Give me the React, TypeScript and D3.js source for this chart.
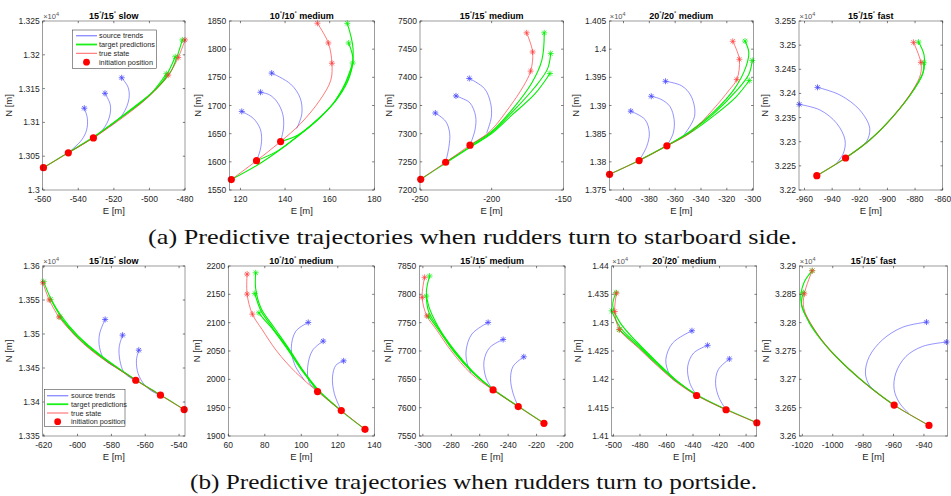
import React from 'react';
import * as d3 from 'd3';

type Pt = [number, number];

// ---------- (a) starboard: 15°/15° slow ----------
const a1Dots: Pt[] = [[-559.6, 13033], [-545.6, 13055], [-531.5, 13077]];
const a1True: Pt[] = [[-559.6, 13033], [-545.6, 13055], [-531.5, 13077], [-522, 13094], [-511, 13115], [-500, 13139], [-489.4, 13170], [-483.8, 13196], [-480, 13222]];
const a1RedStars: Pt[] = [[-489.4, 13170], [-483.8, 13196], [-480, 13222]];
const a1Source: Pt[][] = [
  [[-545.6, 13055], [-538.1, 13074], [-535.3, 13089], [-534.9, 13106], [-536.6, 13121]],
  [[-531.5, 13077], [-526, 13090], [-522.5, 13108], [-522, 13126], [-525, 13143]],
  [[-522, 13094], [-515, 13112], [-511.5, 13135], [-512, 13152], [-515.6, 13166]],
];
const a1Target: Pt[][] = [
  [[-559.6, 13033], [-545.6, 13055.5], [-531.5, 13078], [-511, 13117], [-499, 13143], [-490.5, 13172]],
  [[-545.6, 13055], [-531.5, 13078], [-522, 13096], [-503, 13133], [-492, 13163], [-485.5, 13197]],
  [[-531.5, 13077], [-511, 13118], [-496, 13150], [-488, 13175], [-484.5, 13197], [-481.5, 13222]],
];
const a1XTicks = [-560, -540, -520, -500, -480];
const a1YTicks = [13000, 13050, 13100, 13150, 13200, 13250];

// ---------- (a) starboard: 10°/10° medium ----------
const a2Dots: Pt[] = [[115.9, 1568.5], [127.2, 1602], [138, 1636]];
const a2True: Pt[] = [[115.9, 1568.5], [127.2, 1602], [138, 1636], [147, 1668], [155.7, 1710], [160.5, 1745], [161, 1775], [159.4, 1811], [154.5, 1846]];
const a2RedStars: Pt[] = [[161, 1775], [159.4, 1811], [154.5, 1846]];
const a2Source: Pt[][] = [
  [[127.2, 1602], [128.8, 1620], [129.5, 1641], [128.8, 1659], [125.8, 1677], [120.6, 1689.5]],
  [[138, 1636], [139.3, 1660], [139, 1684], [136.5, 1706], [133, 1719], [129, 1723.5]],
  [[145.2, 1659], [147.5, 1685], [146.8, 1713], [142.5, 1738], [134, 1757.5]],
];
const a2Target: Pt[][] = [
  [[115.9, 1568.5], [127.3, 1593.5], [136.2, 1617], [145.2, 1644], [154.2, 1674], [161.6, 1704], [167, 1740], [170.3, 1775.4]],
  [[127.2, 1602], [136.5, 1619], [145.5, 1645], [155, 1676], [162.5, 1708], [168, 1745], [170.5, 1780], [168.5, 1811]],
  [[138, 1636], [146, 1648], [156, 1680], [164, 1715], [169, 1752], [170.5, 1800], [167.9, 1845.8]],
];
const a2XTicks = [120, 140, 160, 180];
const a2YTicks = [1550, 1600, 1650, 1700, 1750, 1800, 1850];

// ---------- (a) starboard: 15°/15° medium ----------
const a3Dots: Pt[] = [[-249.5, 7219], [-232.1, 7249.3], [-215.1, 7279.6]];
const a3True: Pt[] = [[-249.5, 7219], [-232.1, 7249.3], [-215.1, 7279.6], [-201.2, 7304], [-187.2, 7348.5], [-177.9, 7384], [-172.8, 7411], [-171.4, 7445], [-175.6, 7479]];
const a3RedStars: Pt[] = [[-172.8, 7411], [-171.4, 7445], [-175.6, 7479]];
const a3Source: Pt[][] = [
  [[-232.1, 7249.3], [-229.8, 7277], [-229.3, 7301], [-232.1, 7322], [-239.3, 7336.7]],
  [[-215.1, 7279.6], [-211.6, 7307], [-211.2, 7331], [-215.1, 7354.5], [-220.9, 7363], [-224.9, 7367]],
  [[-203.5, 7301], [-200.2, 7330], [-200.8, 7355], [-205, 7380], [-215.6, 7398]],
];
const a3Target: Pt[][] = [
  [[-249.5, 7219], [-232, 7248], [-215, 7276], [-200, 7300], [-185, 7335], [-170, 7370], [-159.3, 7406.8]],
  [[-232.1, 7249.3], [-215, 7277], [-200, 7302], [-185, 7340], [-170, 7382], [-161, 7415], [-158.8, 7442.4]],
  [[-215.1, 7279.6], [-200, 7304], [-185, 7345], [-172, 7390], [-165, 7430], [-163.3, 7479]],
];
const a3XTicks = [-250, -200, -150];
const a3YTicks = [7200, 7250, 7300, 7350, 7400, 7450, 7500];

// ---------- (a) starboard: 20°/20° medium ----------
const a4Dots: Pt[] = [[-410.8, 13777.9], [-387.9, 13802.3], [-366.4, 13828.4]];
const a4True: Pt[] = [[-410.8, 13777.9], [-387.9, 13802.3], [-366.4, 13828.4], [-348.7, 13851], [-330.8, 13892.6], [-318, 13928], [-312.3, 13946], [-310.3, 13982], [-315.4, 14014]];
const a4RedStars: Pt[] = [[-312.3, 13946], [-310.3, 13982], [-315.4, 14014]];
const a4Source: Pt[][] = [
  [[-387.9, 13802.3], [-382.1, 13827], [-380, 13851], [-383.3, 13875], [-394.4, 13890]],
  [[-366.4, 13828.4], [-361.5, 13851], [-360.8, 13875], [-364.1, 13898.5], [-371, 13911], [-378.5, 13916.4]],
  [[-355.1, 13842], [-345, 13880.7], [-347.6, 13916.4], [-355, 13935], [-367.5, 13943]],
];
const a4Target: Pt[][] = [
  [[-410.8, 13777.9], [-388, 13802.5], [-366, 13829], [-348, 13852], [-330, 13882], [-313, 13915], [-302.6, 13944.3]],
  [[-387.9, 13802.3], [-366, 13829.5], [-348, 13854], [-330, 13886], [-313, 13925], [-303, 13955], [-300.3, 13980]],
  [[-366.4, 13828.4], [-348, 13855], [-330, 13889], [-314, 13930], [-305, 13970], [-303, 13995], [-305.9, 14014.4]],
];
const a4XTicks = [-400, -380, -360, -340, -320, -300];
const a4YTicks = [13750, 13800, 13850, 13900, 13950, 14000, 14050];

// ---------- (a) starboard: 15°/15° fast ----------
const a5Dots: Pt[] = [[-951.1, 32229.7], [-930.3, 32266.3]];
const a5True: Pt[] = [[-951.1, 32229.7], [-930.3, 32266.3], [-912.8, 32303.5], [-896, 32351.8], [-881.6, 32407], [-876, 32440], [-875.8, 32464.3], [-881.1, 32505.7]];
const a5RedStars: Pt[] = [[-875.8, 32464.3], [-881.1, 32505.7]];
const a5Source: Pt[][] = [
  [[-937.2, 32254], [-931.9, 32276], [-930.7, 32303.5], [-936.7, 32338], [-948.7, 32365.6], [-963.8, 32377.4]],
  [[-921, 32285], [-915.2, 32300], [-912.8, 32327.7], [-920, 32365.6], [-934.3, 32396.7], [-950.6, 32412.6]],
];
const a5Target: Pt[][] = [
  [[-951.1, 32229.7], [-930.3, 32266.3], [-912.8, 32303.5], [-896, 32352], [-881, 32407], [-874.5, 32440], [-873.7, 32463.6]],
  [[-930.3, 32266.3], [-912.8, 32303.5], [-896, 32352], [-880.5, 32410], [-873.5, 32450], [-873.5, 32480], [-877.5, 32506.4]],
];
const a5XTicks = [-960, -940, -920, -900, -880, -860];
const a5YTicks = [32200, 32250, 32300, 32350, 32400, 32450, 32500, 32550];

// ---------- (b) portside: 15°/15° slow ----------
const b1Dots: Pt[] = [[-537, 13388.8], [-551, 13410], [-565.6, 13432]];
const b1True: Pt[] = [[-537, 13388.8], [-551, 13410], [-565.6, 13432], [-586.8, 13466.4], [-596.6, 13486], [-604.5, 13505.7], [-611, 13525], [-616.7, 13550], [-620.5, 13575.4]];
const b1RedStars: Pt[] = [[-611, 13525], [-616.7, 13550], [-620.5, 13575.4]];
const b1Source: Pt[][] = [
  [[-551, 13410], [-555.4, 13415], [-560.3, 13424.7], [-564.2, 13441.8], [-565.2, 13461.5], [-563.8, 13476.2]],
  [[-565.6, 13432], [-568.1, 13434.5], [-572.7, 13444.3], [-575, 13461.5], [-575.4, 13481], [-573.4, 13498.3]],
  [[-578, 13452], [-584, 13462], [-587, 13480], [-587, 13500], [-583.7, 13521.4]],
];
const b1Target: Pt[][] = [
  [[-537, 13388.8], [-551, 13410.5], [-565.6, 13432.5], [-586, 13466], [-600, 13495], [-610.4, 13525.3]],
  [[-551, 13410], [-565.6, 13432.5], [-586, 13467], [-600, 13497], [-609, 13522], [-615.9, 13551]],
  [[-565.6, 13432], [-586, 13468], [-600, 13498], [-610, 13528], [-616, 13553], [-620, 13577]],
];
const b1XTicks = [-620, -600, -580, -560, -540];
const b1YTicks = [13350, 13400, 13450, 13500, 13550, 13600];

// ---------- (b) portside: 10°/10° medium ----------
const b2Dots: Pt[] = [[134.9, 1911.8], [121.9, 1944.8], [108.9, 1978.4]];
const b2True: Pt[] = [[134.9, 1911.8], [121.9, 1944.8], [108.9, 1978.4], [97, 2012], [86.5, 2050], [78.5, 2088], [73.2, 2115], [70.3, 2150.4], [70.3, 2185.8]];
const b2RedStars: Pt[] = [[73.2, 2115], [70.3, 2150.4], [70.3, 2185.8]];
const b2Source: Pt[][] = [
  [[121.9, 1944.8], [118.1, 1974.8], [117.1, 2004.3], [119, 2025], [123.2, 2032.6]],
  [[108.9, 1978.4], [104.3, 1995], [103.5, 2022], [106.2, 2051.4], [112, 2067.4]],
  [[101.6, 1999], [96.5, 2025], [94.5, 2055], [97, 2085], [103.8, 2100.4]],
];
const b2Target: Pt[][] = [
  [[134.9, 1911.8], [122, 1944], [110, 1978], [100.5, 2015], [92, 2055], [84, 2090], [79, 2108], [76.8, 2117.4]],
  [[121.9, 1944.8], [110, 1979], [101, 2015], [92.5, 2055], [84.5, 2090], [78, 2120], [74.5, 2151.6]],
  [[108.9, 1978.4], [101, 2015], [93, 2055], [85, 2092], [78, 2125], [75, 2160], [75, 2188]],
];
const b2XTicks = [60, 80, 100, 120, 140];
const b2YTicks = [1900, 1950, 2000, 2050, 2100, 2150, 2200];

// ---------- (b) portside: 15°/15° medium ----------
const b3Dots: Pt[] = [[-214.8, 7572.4], [-232.9, 7601.9], [-250.6, 7631.3]];
const b3True: Pt[] = [[-214.8, 7572.4], [-232.9, 7601.9], [-250.6, 7631.3], [-266, 7660], [-280, 7700], [-290.5, 7738], [-297.2, 7762], [-300.5, 7794.6], [-298.8, 7830]];
const b3RedStars: Pt[] = [[-297.2, 7762], [-300.5, 7794.6], [-298.8, 7830]];
const b3Source: Pt[][] = [
  [[-232.9, 7601.9], [-236.5, 7625], [-238.3, 7651], [-236.5, 7673], [-229, 7689.7]],
  [[-250.6, 7631.3], [-255.5, 7652], [-257, 7682], [-253, 7706], [-243.5, 7720.3]],
  [[-266.2, 7661], [-269, 7680], [-269.5, 7702], [-265.5, 7730], [-254.1, 7750.4]],
];
const b3Target: Pt[][] = [
  [[-214.8, 7572.4], [-232.9, 7602.5], [-250.6, 7632], [-265, 7662], [-278, 7698], [-289, 7737], [-296, 7761.6]],
  [[-232.9, 7601.9], [-250.6, 7632.5], [-265, 7663], [-278, 7700], [-289, 7740], [-296, 7770], [-297.6, 7797]],
  [[-250.6, 7631.3], [-265, 7664], [-278, 7702], [-289, 7742], [-296, 7780], [-297.5, 7805], [-295.3, 7832.3]],
];
const b3XTicks = [-300, -280, -260, -240, -220, -200];
const b3YTicks = [7550, 7600, 7650, 7700, 7750, 7800, 7850];

// ---------- (b) portside: 20°/20° medium ----------
const b4Dots: Pt[] = [[-391.9, 14123.4], [-415.1, 14146.3], [-437.3, 14171.5]];
const b4True: Pt[] = [[-391.9, 14123.4], [-415.1, 14146.3], [-437.3, 14171.5], [-452, 14194], [-467, 14224], [-481, 14255], [-495.5, 14288], [-499, 14319.7], [-497.7, 14352]];
const b4RedStars: Pt[] = [[-495.5, 14288], [-499, 14319.7], [-497.7, 14352]];
const b4Source: Pt[][] = [
  [[-415.1, 14146.3], [-420.5, 14168], [-423, 14193], [-421, 14217], [-412.6, 14236]],
  [[-437.3, 14171.5], [-442.5, 14194], [-444, 14223], [-439.5, 14246.5], [-429, 14260]],
  [[-453.4, 14196], [-458, 14210], [-460.5, 14234.7], [-455.4, 14264], [-440.8, 14285.7]],
];
const b4Target: Pt[][] = [
  [[-391.9, 14123.4], [-415.1, 14147], [-437.3, 14172.5], [-452, 14195.5], [-467, 14226], [-481, 14257], [-495.7, 14287.5]],
  [[-415.1, 14146.3], [-437.3, 14173], [-452, 14196.5], [-467, 14228], [-482, 14262], [-495, 14292], [-501.3, 14320.9]],
  [[-437.3, 14171.5], [-452, 14197], [-467, 14230], [-482, 14265], [-495, 14300], [-500.5, 14330], [-498, 14353]],
];
const b4XTicks = [-500, -480, -460, -440, -420, -400];
const b4YTicks = [14100, 14150, 14200, 14250, 14300, 14350, 14400];

// ---------- (b) portside: 15°/15° fast ----------
const b5Dots: Pt[] = [[-936.7, 32618.7], [-959.6, 32654.5]];
const b5True: Pt[] = [[-936.7, 32618.7], [-959.6, 32654.5], [-973.7, 32682], [-988.9, 32717], [-1002, 32752], [-1012.5, 32790], [-1019, 32825], [-1018.7, 32851], [-1013.5, 32891.7]];
const b5RedStars: Pt[] = [[-1018.7, 32851], [-1013.5, 32891.7]];
const b5Source: Pt[][] = [
  [[-970, 32675], [-976, 32690], [-978.5, 32711.3], [-976, 32740], [-967.2, 32770], [-954, 32792], [-938.3, 32801]],
  [[-949.8, 32639.5], [-956, 32658], [-959.6, 32682], [-958.5, 32711], [-952, 32740], [-941, 32758], [-925.2, 32765.8]],
];
const b5Target: Pt[][] = [
  [[-936.7, 32618.7], [-959.6, 32654.5], [-974, 32683], [-989.5, 32718], [-1003, 32755], [-1014, 32795], [-1020.5, 32830], [-1019.3, 32853]],
  [[-959.6, 32654.5], [-974.5, 32684], [-990, 32720], [-1004, 32758], [-1015.5, 32800], [-1021, 32840], [-1019, 32870], [-1013.5, 32891.7]],
];
const b5XTicks = [-1020, -1000, -980, -960, -940];
const b5YTicks = [32600, 32650, 32700, 32750, 32800, 32850, 32900];

const legendLabels = ['source trends', 'target predictions', 'true state', 'initiation position'];
const captionA = '(a) Predictive trajectories when rudders turn to starboard side.';
const captionB = '(b) Predictive trajectories when rudders turn to portside.';

// ---------- layout ----------
const SANS = "Liberation Sans, Arial, Helvetica, sans-serif";
const SERIF = "Liberation Serif";
const TXT = '#262626';
const BLUE = '#4a4aff';
const GREEN = '#00f000';
const RED = '#ff3a3a';

interface Panel {
  left: number; right: number; top: number; bottom: number;
  xDomain: [number, number]; yDomain: [number, number];
  xTicks: number[]; yTicks: number[]; exp: boolean;
  angle: string; speed: string;
  truth: Pt[]; dots: Pt[]; redStars: Pt[]; source: Pt[][]; target: Pt[][];
  legend?: { x: number; y: number; w: number; h: number; rows: number[]; lx0: number; lx1: number; tx: number };
}

const TOP = { top: 21, bottom: 190 };
const BOT = { top: 266, bottom: 436 };

const panels: Panel[] = [
  { left: 42.7, right: 185, ...TOP, xDomain: [-560, -480], yDomain: [13000, 13250], xTicks: a1XTicks, yTicks: a1YTicks, exp: true, angle: '15', speed: 'slow', truth: a1True, dots: a1Dots, redStars: a1RedStars, source: a1Source, target: a1Target,
    legend: { x: 72.7, y: 30, w: 84, h: 38.3, rows: [35.7, 44.5, 53.3, 62.2], lx0: 76, lx1: 97, tx: 99 } },
  { left: 229.3, right: 374.3, ...TOP, xDomain: [115, 180], yDomain: [1550, 1850], xTicks: a2XTicks, yTicks: a2YTicks, exp: false, angle: '10', speed: 'medium', truth: a2True, dots: a2Dots, redStars: a2RedStars, source: a2Source, target: a2Target },
  { left: 420, right: 563.3, ...TOP, xDomain: [-250, -150], yDomain: [7200, 7500], xTicks: a3XTicks, yTicks: a3YTicks, exp: false, angle: '15', speed: 'medium', truth: a3True, dots: a3Dots, redStars: a3RedStars, source: a3Source, target: a3Target },
  { left: 609.3, right: 753.3, ...TOP, xDomain: [-411, -299.5], yDomain: [13750, 14050], xTicks: a4XTicks, yTicks: a4YTicks, exp: true, angle: '20', speed: 'medium', truth: a4True, dots: a4Dots, redStars: a4RedStars, source: a4Source, target: a4Target },
  { left: 799, right: 942.7, ...TOP, xDomain: [-964, -860], yDomain: [32200, 32550], xTicks: a5XTicks, yTicks: a5YTicks, exp: true, angle: '15', speed: 'fast', truth: a5True, dots: a5Dots, redStars: a5RedStars, source: a5Source, target: a5Target },
  { left: 42.7, right: 185, ...BOT, xDomain: [-620.6, -536.5], yDomain: [13350, 13600], xTicks: b1XTicks, yTicks: b1YTicks, exp: true, angle: '15', speed: 'slow', truth: b1True, dots: b1Dots, redStars: b1RedStars, source: b1Source, target: b1Target,
    legend: { x: 44.3, y: 389.3, w: 80.7, h: 37.4, rows: [395.7, 404.2, 413, 421.7], lx0: 47, lx1: 68.3, tx: 71 } },
  { left: 228.3, right: 374.3, ...BOT, xDomain: [60, 140], yDomain: [1900, 2200], xTicks: b2XTicks, yTicks: b2YTicks, exp: false, angle: '10', speed: 'medium', truth: b2True, dots: b2Dots, redStars: b2RedStars, source: b2Source, target: b2Target },
  { left: 419.3, right: 565, ...BOT, xDomain: [-302.5, -200], yDomain: [7550, 7850], xTicks: b3XTicks, yTicks: b3YTicks, exp: false, angle: '15', speed: 'medium', truth: b3True, dots: b3Dots, redStars: b3RedStars, source: b3Source, target: b3Target },
  { left: 611.7, right: 756.7, ...BOT, xDomain: [-501.3, -392], yDomain: [14100, 14400], xTicks: b4XTicks, yTicks: b4YTicks, exp: true, angle: '20', speed: 'medium', truth: b4True, dots: b4Dots, redStars: b4RedStars, source: b4Source, target: b4Target },
  { left: 799.3, right: 947.5, ...BOT, xDomain: [-1022, -924.5], yDomain: [32600, 32900], xTicks: b5XTicks, yTicks: b5YTicks, exp: true, angle: '15', speed: 'fast', truth: b5True, dots: b5Dots, redStars: b5RedStars, source: b5Source, target: b5Target },
];

const TICK_FS = 8.5;

function yLabelText(v: number, exp: boolean): string {
  return exp ? String(+(v / 1e4).toFixed(4)) : String(v);
}

function textWidth(s: string): number {
  let w = 0;
  for (const c of s) w += c === '.' ? 0.278 : c === '-' ? 0.333 : 0.556;
  return w * TICK_FS;
}

function starPath(x: number, y: number, r = 3): string {
  const d = r * 0.72;
  return `M${x - r},${y}H${x + r}M${x},${y - r}V${y + r}M${x - d},${y - d}L${x + d},${y + d}M${x - d},${y + d}L${x + d},${y - d}`;
}

function PanelView({ p }: { p: Panel }) {
  const xs = d3.scaleLinear().domain(p.xDomain).range([p.left, p.right]);
  const ys = d3.scaleLinear().domain(p.yDomain).range([p.bottom, p.top]);
  const line = d3.line<Pt>().x(d => xs(d[0])).y(d => ys(d[1])).curve(d3.curveCatmullRom.alpha(0.5));
  const cx = (p.left + p.right) / 2;
  const cy = (p.top + p.bottom) / 2;
  const yLabels = p.yTicks.map(v => yLabelText(v, p.exp));
  const maxW = Math.max(...yLabels.map(textWidth));
  const tl = 2.2;

  return (
    <g>
      <rect x={p.left} y={p.top} width={p.right - p.left} height={p.bottom - p.top} fill="#fff" />
      {/* source trends */}
      {p.source.map((s, i) => (
        <path key={'s' + i} d={line(s) || ''} fill="none" stroke={BLUE} strokeWidth={0.8} strokeOpacity={0.75} />
      ))}
      {/* target predictions */}
      {p.target.map((s, i) => (
        <path key={'g' + i} d={line(s) || ''} fill="none" stroke={GREEN} strokeWidth={1.1} />
      ))}
      {/* true state */}
      <path d={line(p.truth) || ''} fill="none" stroke={RED} strokeWidth={0.8} strokeOpacity={0.85} />
      {/* end markers */}
      {p.source.map((s, i) => {
        const e = s[s.length - 1];
        return <path key={'bs' + i} d={starPath(xs(e[0]), ys(e[1]))} stroke={BLUE} strokeWidth={0.8} fill="none" />;
      })}
      {p.target.map((s, i) => {
        const e = s[s.length - 1];
        return <path key={'gs' + i} d={starPath(xs(e[0]), ys(e[1]))} stroke={GREEN} strokeWidth={0.9} fill="none" opacity={0.8} />;
      })}
      {p.redStars.map((e, i) => (
        <path key={'rs' + i} d={starPath(xs(e[0]), ys(e[1]))} stroke={RED} strokeWidth={0.8} fill="none" opacity={0.85} />
      ))}
      {/* initiation positions */}
      {p.dots.map((e, i) => (
        <circle key={'d' + i} cx={xs(e[0])} cy={ys(e[1])} r={3.6} fill="#ff0000" />
      ))}
      {/* axes box and ticks */}
      <rect x={p.left} y={p.top} width={p.right - p.left} height={p.bottom - p.top} fill="none" stroke={TXT} strokeWidth={0.6} strokeOpacity={0.75} />
      {p.xTicks.map(v => (
        <g key={'xt' + v}>
          <line x1={xs(v)} x2={xs(v)} y1={p.bottom} y2={p.bottom - tl} stroke={TXT} strokeWidth={0.6} />
          <line x1={xs(v)} x2={xs(v)} y1={p.top} y2={p.top + tl} stroke={TXT} strokeWidth={0.6} />
          <text x={xs(v)} y={p.bottom + 12.3} textAnchor="middle" fontSize={TICK_FS} fill={TXT} fontFamily={SANS}>{String(v)}</text>
        </g>
      ))}
      {p.yTicks.map((v, i) => (
        <g key={'yt' + v}>
          <line x1={p.left} x2={p.left + tl} y1={ys(v)} y2={ys(v)} stroke={TXT} strokeWidth={0.6} />
          <line x1={p.right} x2={p.right - tl} y1={ys(v)} y2={ys(v)} stroke={TXT} strokeWidth={0.6} />
          <text x={p.left - 3} y={ys(v) + 3} textAnchor="end" fontSize={TICK_FS} fill={TXT} fontFamily={SANS}>{yLabels[i]}</text>
        </g>
      ))}
      {p.exp && (
        <text x={p.left + 0.5} y={p.top - 2.5} fontSize={7.5} fill="#555" fontFamily={SANS}>
          ×10<tspan fontSize={5.5} dy={-3}>4</tspan>
        </text>
      )}
      {/* title */}
      <text x={cx} y={p.top - 2.5} textAnchor="middle" fontSize={9} fontWeight="bold" fill="#000" fontFamily={SANS}>
        {p.angle}<tspan fontSize={5.5} dy={-3.5}>°</tspan><tspan dy={3.5}>/{p.angle}</tspan><tspan fontSize={5.5} dy={-3.5}>°</tspan><tspan dy={3.5}>{' ' + p.speed}</tspan>
      </text>
      {/* axis labels */}
      <text x={cx} y={p.bottom + 23.5} textAnchor="middle" fontSize={9.5} fill={TXT} fontFamily={SANS}>E [m]</text>
      <text transform={`translate(${p.left - 3 - maxW - 6.5},${cy}) rotate(-90)`} textAnchor="middle" fontSize={9.5} fill={TXT} fontFamily={SANS}>N [m]</text>
      {p.legend && <Legend l={p.legend} />}
    </g>
  );
}

function Legend({ l }: { l: NonNullable<Panel['legend']> }) {
  const colors = [BLUE, GREEN, RED];
  const widths = [1.4, 1.8, 0.9];
  return (
    <g>
      <rect x={l.x} y={l.y} width={l.w} height={l.h} fill="#fff" stroke={TXT} strokeWidth={0.5} />
      {legendLabels.map((lab, i) => (
        <g key={lab}>
          {i < 3 ? (
            <line x1={l.lx0} x2={l.lx1} y1={l.rows[i]} y2={l.rows[i]} stroke={colors[i]} strokeWidth={widths[i]} strokeOpacity={i === 0 ? 0.6 : 0.9} />
          ) : (
            <circle cx={(l.lx0 + l.lx1) / 2} cy={l.rows[i]} r={3.4} fill="#ff0000" />
          )}
          <text x={l.tx} y={l.rows[i] + 2.5} fontSize={7.3} fill={TXT} fontFamily={SANS}>{lab}</text>
        </g>
      ))}
    </g>
  );
}

export default function App() {
  return (
    <svg width={951} height={496} viewBox="0 0 951 496" style={{ position: 'absolute', left: 0, top: 0, background: '#fff' }}>
      <rect x={0} y={0} width={951} height={496} fill="#fff" />
      {panels.map((p, i) => <PanelView key={i} p={p} />)}
      <text x={148} y={244} fontSize={22} fontFamily={SERIF} fill="#111" textLength={649} lengthAdjust="spacingAndGlyphs">{captionA}</text>
      <text x={190} y={489} fontSize={22} fontFamily={SERIF} fill="#111" textLength={567} lengthAdjust="spacingAndGlyphs">{captionB}</text>
    </svg>
  );
}
